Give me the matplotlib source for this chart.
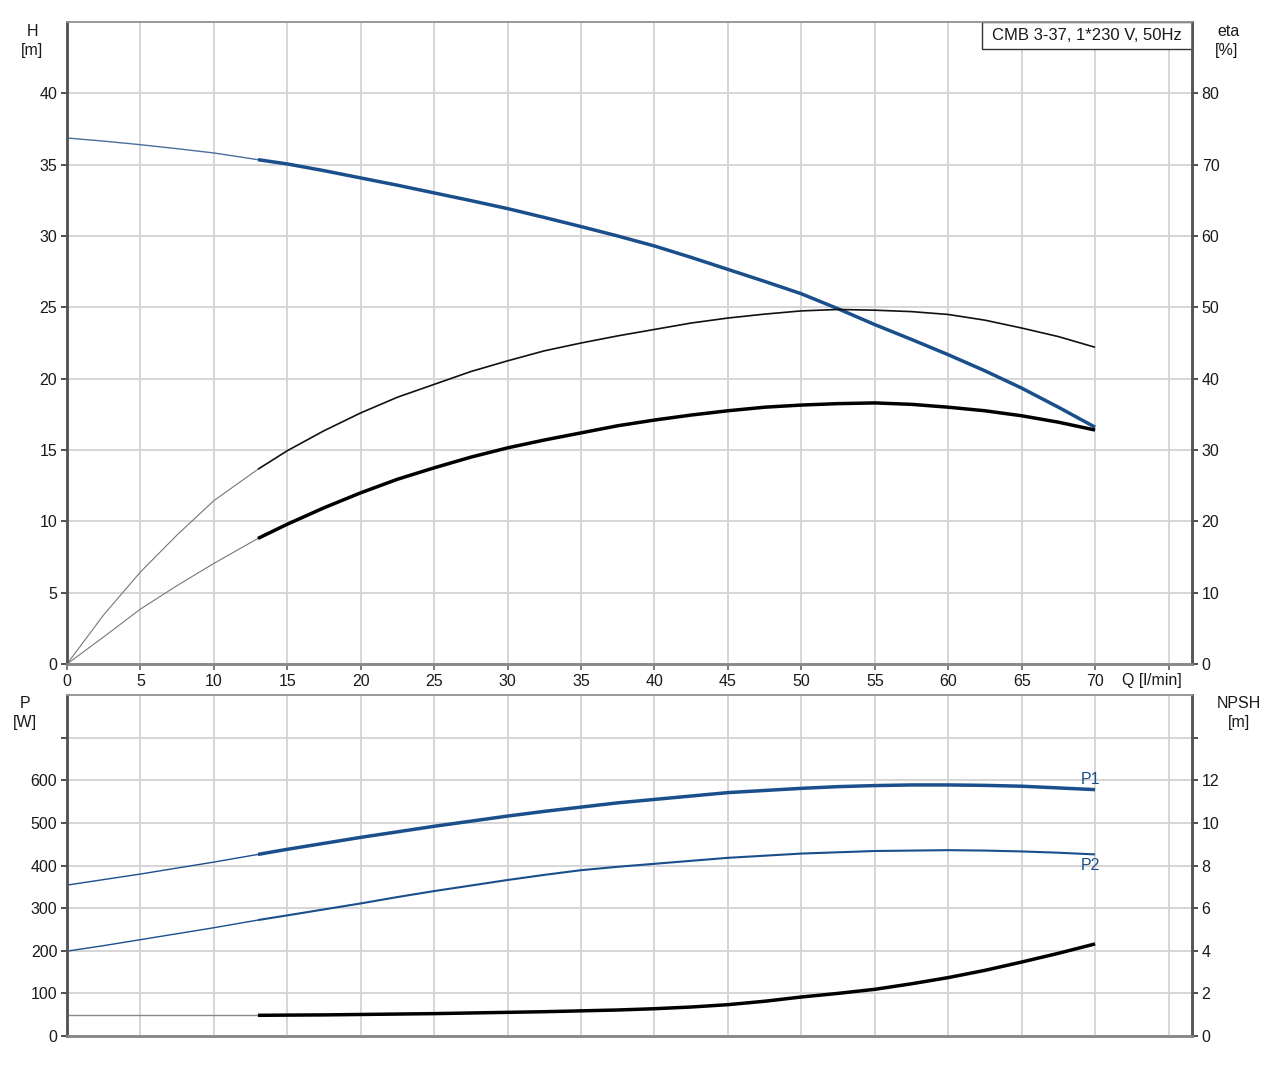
import matplotlib
matplotlib.use("Agg")
import matplotlib.pyplot as plt
from matplotlib.patches import Rectangle
import numpy as np

plt.rcParams['font.family'] = ['Liberation Sans', 'DejaVu Sans']
FS = 11.5

BLUE = '#1b4f8b'

# Flow points (l/min); 13 marks the start of the working range (thick lines)
q = [0, 2.5, 5, 7.5, 10, 13, 15, 17.5, 20, 22.5, 25, 27.5, 30, 32.5, 35, 37.5, 40,
     42.5, 45, 47.5, 50, 52.5, 55, 57.5, 60, 62.5, 65, 67.5, 70]
head = [36.87, 36.65, 36.4, 36.12, 35.82, 35.35, 35.05, 34.58, 34.07, 33.56, 33.02, 32.48,
        31.92, 31.3, 30.66, 30.0, 29.3, 28.5, 27.66, 26.82, 25.95, 24.9, 23.79, 22.75,
        21.68, 20.55, 19.34, 18.0, 16.6]
eta_pump = [0, 6.9, 12.9, 18.1, 22.9, 27.3, 29.9, 32.7, 35.2, 37.4, 39.2, 41.0, 42.5, 43.9,
            45.0, 46.0, 46.9, 47.8, 48.5, 49.05, 49.5, 49.7, 49.6, 49.4, 49.0, 48.2, 47.1,
            45.9, 44.4]
eta_total = [0, 3.8, 7.7, 11.0, 14.1, 17.6, 19.6, 21.9, 24.0, 25.9, 27.5, 29.0, 30.3, 31.4,
             32.4, 33.4, 34.2, 34.9, 35.5, 36.0, 36.3, 36.5, 36.6, 36.4, 36.0, 35.5, 34.8,
             33.9, 32.8]
p1 = [354, 367, 380, 394, 408, 426, 438, 452, 466, 479, 492, 504, 516, 527, 537, 547, 555,
      563, 571, 576, 581, 585, 587.5, 589, 589, 588, 586, 582, 578]
p2 = [199, 212, 226, 240, 254, 272, 283, 297, 311, 326, 340, 353, 366, 378, 389, 397, 404,
      411, 418, 423, 428, 431, 434, 435, 436, 435, 433, 430, 426]
npsh = [0.97, 0.97, 0.97, 0.97, 0.97, 0.97, 0.98, 0.99, 1.01, 1.03, 1.05, 1.08, 1.11, 1.14,
        1.18, 1.22, 1.28, 1.36, 1.47, 1.63, 1.83, 2.0, 2.19, 2.45, 2.74, 3.08, 3.47, 3.88,
        4.32]

x_ticks = [0, 5, 10, 15, 20, 25, 30, 35, 40, 45, 50, 55, 60, 65, 70]
h_ticks = [0, 5, 10, 15, 20, 25, 30, 35, 40]
eta_ticks = [0, 10, 20, 30, 40, 50, 60, 70, 80]
p_ticks = [0, 100, 200, 300, 400, 500, 600]
npsh_ticks = [0, 2, 4, 6, 8, 10, 12]

W, H = 1280, 1066
fig = plt.figure(figsize=(W / 100, H / 100), dpi=100)

def rect(l, t, r, b):
    return [l / W, 1 - b / H, (r - l) / W, (b - t) / H]

XMAX = 76.6
GRID = '#d6d6d6'
TXT = '#1a1a1a'

ax1 = fig.add_axes(rect(67, 22, 1192, 664))
ax1b = ax1.twinx()
ax2 = fig.add_axes(rect(67, 695, 1192, 1036))
ax2b = ax2.twinx()

def style(ax, axr, ymax, yticks, rymax, rticks, y_unl, r_unl, xlabels):
    ax.set_xlim(0, XMAX)
    ax.set_ylim(0, ymax)
    axr.set_ylim(0, rymax)
    ax.set_xticks(x_ticks + [75])
    ax.set_xticklabels([str(v) for v in x_ticks] + [''] if xlabels else [''] * (len(x_ticks) + 1))
    ax.set_yticks(yticks + y_unl)
    ax.set_yticklabels([str(v) for v in yticks] + [''] * len(y_unl))
    axr.set_yticks(rticks + r_unl)
    axr.set_yticklabels([str(v) for v in rticks] + [''] * len(r_unl))
    ax.grid(True, color=GRID, linewidth=1.4)
    ax.set_axisbelow(True)
    for a in (ax, axr):
        a.tick_params(length=4, width=1.2, color='#333333', pad=3, labelsize=FS, labelcolor=TXT)
        a.spines['left'].set_color('#555555')
        a.spines['left'].set_linewidth(1.8)
        a.spines['right'].set_color('#555555')
        a.spines['right'].set_linewidth(1.8)
        a.spines['bottom'].set_color('#888888')
        a.spines['bottom'].set_linewidth(1.8)
        a.spines['top'].set_color('#999999')
        a.spines['top'].set_linewidth(1.2)
    if xlabels:
        ax.tick_params(axis='x', length=4, color='#666666')
    else:
        ax.tick_params(axis='x', length=0)

style(ax1, ax1b, 45, h_ticks, 90, eta_ticks, [], [], True)
style(ax2, ax2b, 800, p_ticks, 16, npsh_ticks, [700], [14], False)

qa = np.array(q)
k = q.index(13)

def draw(ax, y, color, thin_w, thick_w, thin_color=None):
    y = np.array(y)
    ax.plot(qa[:k + 1], y[:k + 1], color=thin_color or color, lw=thin_w,
            solid_capstyle='butt', solid_joinstyle='round')
    ax.plot(qa[k:], y[k:], color=color, lw=thick_w, solid_capstyle='butt',
            solid_joinstyle='round')

draw(ax1, head, BLUE, 1.0, 2.5, thin_color='#4a6f9c')
draw(ax1b, eta_pump, '#111111', 0.8, 1.2, thin_color='#777777')
draw(ax1b, eta_total, '#000000', 0.8, 2.5, thin_color='#777777')
draw(ax2, p1, BLUE, 1.0, 2.5)
draw(ax2, p2, BLUE, 1.0, 1.5)
draw(ax2b, npsh, '#000000', 1.0, 2.5, thin_color='#888888')

ax2.text(69.7, p1[-1] + 7, 'P1', color=BLUE, fontsize=FS, ha='center', va='bottom')
ax2.text(69.7, p2[-1] - 8, 'P2', color=BLUE, fontsize=FS, ha='center', va='top')

# model box in the upper right corner
bx0 = (982 - 67) / 1125
bh = 27 / 642
ax1.add_patch(Rectangle((bx0, 1 - bh), 1 - bx0, bh, transform=ax1.transAxes,
                        facecolor='white', edgecolor='#333333', lw=1.0, zorder=5,
                        clip_on=False))
ax1.text(bx0 + (1 - bx0) / 2, 1 - bh / 2, 'CMB 3-37, 1*230 V, 50Hz', transform=ax1.transAxes,
         ha='center', va='center', fontsize=12, color=TXT, zorder=6)

def ftext(x, y, s):
    fig.text(x / W, 1 - y / H, s, ha='center', va='center', fontsize=FS, color=TXT)

ftext(32, 31, 'H')
ftext(32, 50, '[m]')
ftext(1228, 31, 'eta')
ftext(1227, 50, '[%]')
ftext(25, 703, 'P')
ftext(25, 722, '[W]')
ftext(1239, 703, 'NPSH')
ftext(1239, 722, '[m]')
ftext(1152, 681, 'Q [l/min]')

fig.savefig('out.png', dpi=100)
